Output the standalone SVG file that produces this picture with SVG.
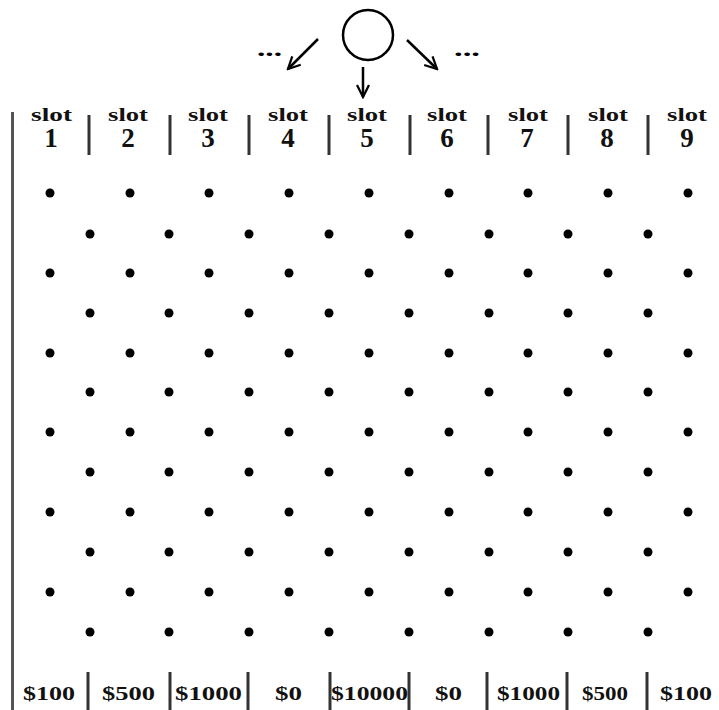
<svg xmlns="http://www.w3.org/2000/svg" width="719" height="710" viewBox="0 0 719 710">
<defs>
<style>
.sep{stroke:#333;stroke-width:3}
.peg{fill:#000}
.slot{font-family:"Liberation Serif",serif;font-weight:bold;font-size:19px;fill:#111}
.num{font-family:"Liberation Serif",serif;font-weight:bold;font-size:27px;fill:#111;text-anchor:middle}
.prize{font-family:"Liberation Serif",serif;font-weight:bold;font-size:19px;fill:#111}
.dots{font-family:"Liberation Serif",serif;font-weight:bold;font-size:22px;fill:#000}
.arr{stroke:#000;stroke-width:2.5;fill:none}
</style>
<marker id="ah" viewBox="0 0 10 10" refX="9" refY="5" markerWidth="6" markerHeight="6" orient="auto" markerUnits="strokeWidth">
<path d="M1,1 L9,5 L1,9" fill="none" stroke="#000" stroke-width="1.5"/>
</marker>
</defs>
<rect width="719" height="710" fill="#fff"/>
<g id="ball">
<circle cx="368" cy="35" r="25" fill="none" stroke="#000" stroke-width="2.5"/>
</g>
<g id="connectors">
<line class="arr" x1="318" y1="39" x2="288" y2="69" marker-end="url(#ah)"/>
<line class="arr" x1="407" y1="40" x2="437" y2="69" marker-end="url(#ah)"/>
<line class="arr" x1="363" y1="67" x2="363" y2="97" stroke-width="1.8" marker-end="url(#ah)"/>
</g>
<g id="ellipses">
<text class="dots" x="257" y="56" textLength="25" lengthAdjust="spacingAndGlyphs">...</text>
<text class="dots" x="454" y="56" textLength="26" lengthAdjust="spacingAndGlyphs">...</text>
</g>
<g id="walls">
<line x1="12.5" y1="112" x2="12.5" y2="710" stroke="#555" stroke-width="3"/>
<line class="sep" x1="89" y1="115" x2="89" y2="155"/>
<line class="sep" x1="170" y1="115" x2="170" y2="155"/>
<line class="sep" x1="249" y1="115" x2="249" y2="155"/>
<line class="sep" x1="329" y1="115" x2="329" y2="155"/>
<line class="sep" x1="410" y1="115" x2="410" y2="155"/>
<line class="sep" x1="488" y1="115" x2="488" y2="155"/>
<line class="sep" x1="568" y1="115" x2="568" y2="155"/>
<line class="sep" x1="648" y1="115" x2="648" y2="155"/>
<line class="sep" x1="88" y1="672" x2="88" y2="710"/>
<line class="sep" x1="170" y1="672" x2="170" y2="710"/>
<line class="sep" x1="248" y1="672" x2="248" y2="710"/>
<line class="sep" x1="330" y1="672" x2="330" y2="710"/>
<line class="sep" x1="409" y1="672" x2="409" y2="710"/>
<line class="sep" x1="487" y1="672" x2="487" y2="710"/>
<line class="sep" x1="567" y1="672" x2="567" y2="710"/>
<line class="sep" x1="647" y1="672" x2="647" y2="710"/>
</g>
<g id="slots">
<g id="slot1"><text class="slot" x="31" y="121" textLength="41" lengthAdjust="spacingAndGlyphs">slot</text><text class="num" x="51" y="147">1</text></g>
<g id="slot2"><text class="slot" x="108" y="121" textLength="40" lengthAdjust="spacingAndGlyphs">slot</text><text class="num" x="128" y="147">2</text></g>
<g id="slot3"><text class="slot" x="188" y="121" textLength="40" lengthAdjust="spacingAndGlyphs">slot</text><text class="num" x="208" y="147">3</text></g>
<g id="slot4"><text class="slot" x="268" y="121" textLength="40" lengthAdjust="spacingAndGlyphs">slot</text><text class="num" x="288" y="147">4</text></g>
<g id="slot5"><text class="slot" x="347" y="121" textLength="40" lengthAdjust="spacingAndGlyphs">slot</text><text class="num" x="367" y="147">5</text></g>
<g id="slot6"><text class="slot" x="427" y="121" textLength="40" lengthAdjust="spacingAndGlyphs">slot</text><text class="num" x="447" y="147">6</text></g>
<g id="slot7"><text class="slot" x="508" y="121" textLength="40" lengthAdjust="spacingAndGlyphs">slot</text><text class="num" x="527" y="147">7</text></g>
<g id="slot8"><text class="slot" x="588" y="121" textLength="40" lengthAdjust="spacingAndGlyphs">slot</text><text class="num" x="607" y="147">8</text></g>
<g id="slot9"><text class="slot" x="667" y="121" textLength="40" lengthAdjust="spacingAndGlyphs">slot</text><text class="num" x="687" y="147">9</text></g>
</g>
<g id="pegs">
<g id="rowA">
<circle class="peg" cx="50" cy="193" r="4.5"/><circle class="peg" cx="130" cy="193" r="4.5"/><circle class="peg" cx="209" cy="193" r="4.5"/><circle class="peg" cx="289" cy="193" r="4.5"/><circle class="peg" cx="369" cy="193" r="4.5"/><circle class="peg" cx="449" cy="193" r="4.5"/><circle class="peg" cx="528" cy="193" r="4.5"/><circle class="peg" cx="608" cy="193" r="4.5"/><circle class="peg" cx="688" cy="193" r="4.5"/>
<circle class="peg" cx="50" cy="273" r="4.5"/><circle class="peg" cx="130" cy="273" r="4.5"/><circle class="peg" cx="209" cy="273" r="4.5"/><circle class="peg" cx="289" cy="273" r="4.5"/><circle class="peg" cx="369" cy="273" r="4.5"/><circle class="peg" cx="449" cy="273" r="4.5"/><circle class="peg" cx="528" cy="273" r="4.5"/><circle class="peg" cx="608" cy="273" r="4.5"/><circle class="peg" cx="688" cy="273" r="4.5"/>
<circle class="peg" cx="50" cy="353" r="4.5"/><circle class="peg" cx="130" cy="353" r="4.5"/><circle class="peg" cx="209" cy="353" r="4.5"/><circle class="peg" cx="289" cy="353" r="4.5"/><circle class="peg" cx="369" cy="353" r="4.5"/><circle class="peg" cx="449" cy="353" r="4.5"/><circle class="peg" cx="528" cy="353" r="4.5"/><circle class="peg" cx="608" cy="353" r="4.5"/><circle class="peg" cx="688" cy="353" r="4.5"/>
<circle class="peg" cx="50" cy="432" r="4.5"/><circle class="peg" cx="130" cy="432" r="4.5"/><circle class="peg" cx="209" cy="432" r="4.5"/><circle class="peg" cx="289" cy="432" r="4.5"/><circle class="peg" cx="369" cy="432" r="4.5"/><circle class="peg" cx="449" cy="432" r="4.5"/><circle class="peg" cx="528" cy="432" r="4.5"/><circle class="peg" cx="608" cy="432" r="4.5"/><circle class="peg" cx="688" cy="432" r="4.5"/>
<circle class="peg" cx="50" cy="512" r="4.5"/><circle class="peg" cx="130" cy="512" r="4.5"/><circle class="peg" cx="209" cy="512" r="4.5"/><circle class="peg" cx="289" cy="512" r="4.5"/><circle class="peg" cx="369" cy="512" r="4.5"/><circle class="peg" cx="449" cy="512" r="4.5"/><circle class="peg" cx="528" cy="512" r="4.5"/><circle class="peg" cx="608" cy="512" r="4.5"/><circle class="peg" cx="688" cy="512" r="4.5"/>
<circle class="peg" cx="50" cy="592" r="4.5"/><circle class="peg" cx="130" cy="592" r="4.5"/><circle class="peg" cx="209" cy="592" r="4.5"/><circle class="peg" cx="289" cy="592" r="4.5"/><circle class="peg" cx="369" cy="592" r="4.5"/><circle class="peg" cx="449" cy="592" r="4.5"/><circle class="peg" cx="528" cy="592" r="4.5"/><circle class="peg" cx="608" cy="592" r="4.5"/><circle class="peg" cx="688" cy="592" r="4.5"/>
</g>
<g id="rowB">
<circle class="peg" cx="90" cy="234" r="4.5"/><circle class="peg" cx="169" cy="234" r="4.5"/><circle class="peg" cx="249" cy="234" r="4.5"/><circle class="peg" cx="329" cy="234" r="4.5"/><circle class="peg" cx="409" cy="234" r="4.5"/><circle class="peg" cx="489" cy="234" r="4.5"/><circle class="peg" cx="568" cy="234" r="4.5"/><circle class="peg" cx="648" cy="234" r="4.5"/>
<circle class="peg" cx="90" cy="313" r="4.5"/><circle class="peg" cx="169" cy="313" r="4.5"/><circle class="peg" cx="249" cy="313" r="4.5"/><circle class="peg" cx="329" cy="313" r="4.5"/><circle class="peg" cx="409" cy="313" r="4.5"/><circle class="peg" cx="489" cy="313" r="4.5"/><circle class="peg" cx="568" cy="313" r="4.5"/><circle class="peg" cx="648" cy="313" r="4.5"/>
<circle class="peg" cx="90" cy="392" r="4.5"/><circle class="peg" cx="169" cy="392" r="4.5"/><circle class="peg" cx="249" cy="392" r="4.5"/><circle class="peg" cx="329" cy="392" r="4.5"/><circle class="peg" cx="409" cy="392" r="4.5"/><circle class="peg" cx="489" cy="392" r="4.5"/><circle class="peg" cx="568" cy="392" r="4.5"/><circle class="peg" cx="648" cy="392" r="4.5"/>
<circle class="peg" cx="90" cy="472" r="4.5"/><circle class="peg" cx="169" cy="472" r="4.5"/><circle class="peg" cx="249" cy="472" r="4.5"/><circle class="peg" cx="329" cy="472" r="4.5"/><circle class="peg" cx="409" cy="472" r="4.5"/><circle class="peg" cx="489" cy="472" r="4.5"/><circle class="peg" cx="568" cy="472" r="4.5"/><circle class="peg" cx="648" cy="472" r="4.5"/>
<circle class="peg" cx="90" cy="552" r="4.5"/><circle class="peg" cx="169" cy="552" r="4.5"/><circle class="peg" cx="249" cy="552" r="4.5"/><circle class="peg" cx="329" cy="552" r="4.5"/><circle class="peg" cx="409" cy="552" r="4.5"/><circle class="peg" cx="489" cy="552" r="4.5"/><circle class="peg" cx="568" cy="552" r="4.5"/><circle class="peg" cx="648" cy="552" r="4.5"/>
<circle class="peg" cx="90" cy="632" r="4.5"/><circle class="peg" cx="169" cy="632" r="4.5"/><circle class="peg" cx="249" cy="632" r="4.5"/><circle class="peg" cx="329" cy="632" r="4.5"/><circle class="peg" cx="409" cy="632" r="4.5"/><circle class="peg" cx="489" cy="632" r="4.5"/><circle class="peg" cx="568" cy="632" r="4.5"/><circle class="peg" cx="648" cy="632" r="4.5"/>
</g>
</g>
<g id="prizes">
<text class="prize" x="23" y="700" textLength="52" lengthAdjust="spacingAndGlyphs">$100</text>
<text class="prize" x="102" y="700" textLength="53" lengthAdjust="spacingAndGlyphs">$500</text>
<text class="prize" x="175" y="700" textLength="67" lengthAdjust="spacingAndGlyphs">$1000</text>
<text class="prize" x="275" y="700" textLength="27" lengthAdjust="spacingAndGlyphs">$0</text>
<text class="prize" x="331" y="700" textLength="77" lengthAdjust="spacingAndGlyphs">$10000</text>
<text class="prize" x="435" y="700" textLength="27" lengthAdjust="spacingAndGlyphs">$0</text>
<text class="prize" x="497" y="700" textLength="63" lengthAdjust="spacingAndGlyphs">$1000</text>
<text class="prize" x="582" y="700" textLength="46" lengthAdjust="spacingAndGlyphs">$500</text>
<text class="prize" x="660" y="700" textLength="52" lengthAdjust="spacingAndGlyphs">$100</text>
</g>
</svg>
